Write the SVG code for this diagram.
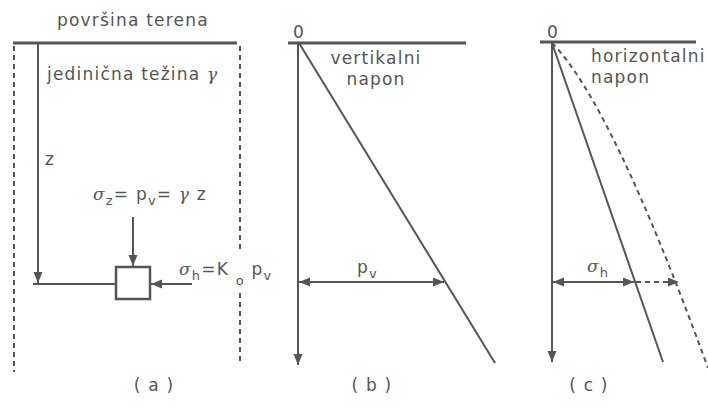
<svg xmlns="http://www.w3.org/2000/svg" width="708" height="412" viewBox="0 0 708 412">
<defs>
<marker id="ah" markerUnits="userSpaceOnUse" markerWidth="12" markerHeight="10" refX="11" refY="4.5" orient="auto-start-reverse">
<path d="M0,0 L11,4.5 L0,9 z" fill="#555"/>
</marker>
<style>
.t{font-family:"DejaVu Sans","Liberation Sans",sans-serif;font-size:17px;fill:#555;letter-spacing:1.2px}
.s{font-size:13px}
.g{font-style:italic;font-family:"DejaVu Serif","Liberation Serif",serif}
.ln{stroke:#555;stroke-width:2;fill:none}
.gr{stroke:#555;stroke-width:3;fill:none}
.da{stroke:#555;stroke-width:2;fill:none;stroke-dasharray:5,4}
</style>
</defs>
<rect width="708" height="412" fill="#fff"/>

<g id="panel-a">
<text class="t" x="57" y="26">površina terena</text>
<line class="gr" x1="13" y1="43" x2="237" y2="43"/>
<line class="da" x1="14" y1="46" x2="14" y2="372"/>
<line class="da" x1="240" y1="46" x2="240" y2="250"/>
<line class="da" x1="240" y1="293" x2="240" y2="362"/>
<text class="t" x="47" y="80">jedinična težina <tspan class="g">γ</tspan></text>
<text class="t" x="45" y="165">z</text>
<text class="t" x="93" y="200"><tspan class="g">σ</tspan><tspan class="s" dy="5">z</tspan><tspan dy="-5">= p</tspan><tspan class="s" dy="5">v</tspan><tspan dy="-5">= </tspan><tspan class="g">γ</tspan> z</text>
<rect x="116" y="267" width="34" height="32" fill="#fff" stroke="#555" stroke-width="2.5"/>
<text class="t" x="179" y="275"><tspan class="g">σ</tspan><tspan class="s" dy="5">h</tspan><tspan dy="-5">=K </tspan><tspan class="s" dy="10">o</tspan><tspan dy="-10"> p</tspan><tspan class="s" dy="5">v</tspan></text>
<text class="t" x="154" y="391" text-anchor="middle">( a )</text>
</g>

<g id="panel-b">
<text class="t" x="293" y="38">0</text>
<line class="gr" x1="288" y1="43" x2="466" y2="43"/>
<text class="t" x="376" y="64" text-anchor="middle">vertikalni</text>
<text class="t" x="376" y="85" text-anchor="middle">napon</text>
<line class="ln" x1="299" y1="43" x2="495" y2="363"/>
<text class="t" x="357" y="273">p<tspan class="s" dy="5">v</tspan></text>
<text class="t" x="372" y="391" text-anchor="middle">( b )</text>
</g>

<g id="panel-c">
<text class="t" x="547" y="38">0</text>
<line class="gr" x1="540" y1="42" x2="696" y2="42"/>
<text class="t" x="591" y="62">horizontalni</text>
<text class="t" x="591" y="83">napon</text>
<line class="ln" x1="552" y1="43" x2="663" y2="362"/>
<path class="da" d="M552,43 Q611,102 708,368"/>
<text class="t" x="587" y="272"><tspan class="g">σ</tspan><tspan class="s" dy="5">h</tspan></text>
<text class="t" x="589" y="391" text-anchor="middle">( c )</text>
</g>

<g id="connectors">
<line class="ln" x1="38" y1="43" x2="38" y2="283" marker-end="url(#ah)"/>
<line class="ln" x1="33" y1="284" x2="116" y2="284"/>
<line class="ln" x1="133" y1="217" x2="133" y2="266" marker-end="url(#ah)"/>
<line class="ln" x1="192" y1="284" x2="151" y2="284" marker-end="url(#ah)"/>
<line class="ln" x1="298" y1="43" x2="298" y2="365" marker-end="url(#ah)"/>
<line class="ln" x1="299" y1="282" x2="444" y2="282" marker-start="url(#ah)" marker-end="url(#ah)"/>
<line class="ln" x1="552" y1="43" x2="552" y2="362" marker-end="url(#ah)"/>
<line class="ln" x1="553" y1="282" x2="634" y2="282" marker-start="url(#ah)" marker-end="url(#ah)"/>
<line class="da" x1="636" y1="282" x2="679" y2="282" marker-end="url(#ah)"/>
</g>
</svg>
